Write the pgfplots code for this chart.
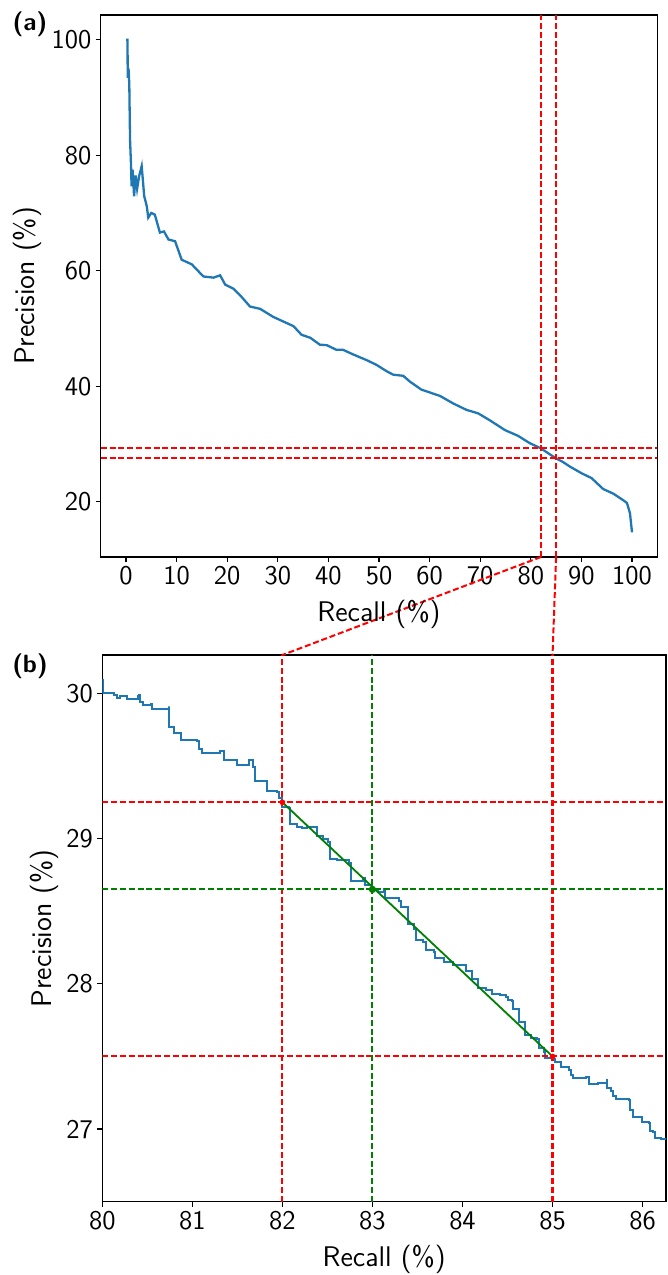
\documentclass[border=0pt]{standalone}
\usepackage{fontspec}
\usepackage{pgfplots}
\pgfplotsset{compat=1.18}
\definecolor{mplblue}{HTML}{1F77B4}
\definecolor{mplgreen}{HTML}{008000}
\definecolor{mplred}{HTML}{FF0000}
\tikzset{
  rdash/.style={mplred, line width=1pt, dash pattern=on 3pt off 1.4pt},
  gdash/.style={mplgreen, line width=1pt, dash pattern=on 3pt off 1.4pt},
}
\pgfplotsset{
  prstyle/.style={
    scale only axis,
    axis line style={black, line width=0.6pt},
    tick align=outside,
    tick pos=left,
    major tick length=2.5pt,
    tick style={black, line width=0.6pt},
    /pgf/number format/assume math mode=true,
    tick label style={font=\sffamily\fontsize{13.5}{14}\selectfont, inner sep=2pt},
    clip=true,
  },
}
\begin{document}
\begin{tikzpicture}[x=1pt,y=1pt]
\path[use as bounding box] (0pt,0pt) rectangle (334pt,-637.5pt);
% ---------------- (a) ----------------
\begin{axis}[prstyle,
  at={(50.35pt,-7.5pt)}, anchor=north west,
  width=278.3pt, height=271pt,
  xmin=-5, xmax=105, ymin=10.43, ymax=104.27,
  xtick={0,10,...,100}, ytick={20,40,60,80,100},
]
\addplot[mplblue, line width=1.15pt] coordinates {
(0,100)(0.3,100)(0.34,93.4)(0.5,95)(0.65,92.3)(0.8,82.7)(1.0,78.1)(1.1,74.6)(1.3,77.5)
(1.6,72.9)(1.9,76.5)(2.2,74.2)(2.6,76.4)(3.1,78.1)(3.6,72.9)(4.1,71.2)(4.4,69.2)(5.0,70.0)
(5.7,69.7)(6.7,66.6)(7.5,66.8)(8.4,65.4)(9.7,65.1)(11.0,61.9)(13.0,61.1)(15.3,59.0)
(17.3,58.8)(18.6,59.2)(19.6,57.6)(21.2,56.9)(22.8,55.5)(24.5,53.8)(26.5,53.4)(29.1,52.0)
(31.1,51.2)(33.1,50.4)(34.7,48.9)(36.4,48.4)(38.3,47.2)(39.7,47.1)(41.6,46.3)(42.9,46.3)
(44.9,45.5)(47.6,44.5)(49.5,43.7)(51.5,42.6)(52.8,42.0)(54.8,41.8)(56.1,40.8)(58.4,39.4)
(60.1,38.9)(62.1,38.3)(64.7,37.0)(67.3,35.9)(69.6,35.3)(71.9,34.1)(74.9,32.4)(77.5,31.4)
(79.5,30.3)(80,30.05)(82,29.25)(83,28.65)(85,27.5)(86.26,26.93)(87.7,26.1)(90.1,24.9)
(92.0,24.1)(94.3,22.2)(96.3,21.4)(98.2,20.3)(99.0,19.8)(99.6,18.0)(100,14.7)
};
\addplot[rdash] coordinates {(82,10.43)(82,104.27)};
\addplot[rdash] coordinates {(85,10.43)(85,104.27)};
\addplot[rdash] coordinates {(-5,29.25)(105,29.25)};
\addplot[rdash] coordinates {(-5,27.5)(105,27.5)};
\coordinate (t82) at (axis cs:82,10.43);
\coordinate (t85) at (axis cs:85,10.43);
\end{axis}
% ---------------- (b) ----------------
\begin{axis}[prstyle,
  at={(51.15pt,-327.5pt)}, anchor=north west,
  width=281.85pt, height=273.35pt,
  xmin=80, xmax=86.26, ymin=26.5, ymax=30.264,
  xtick={80,81,...,86}, ytick={27,28,29,30},
]
\addplot[mplblue, line width=1pt, const plot] coordinates {
(80,30.09)(80.01,30.0)(80.13,29.99)(80.16,29.97)(80.2,29.98)(80.27,29.96)(80.4,29.98)
(80.41,29.99)(80.42,29.94)(80.45,29.92)(80.54,29.93)(80.55,29.89)(80.61,29.89)(80.74,29.91)
(80.74,29.77)(80.79,29.77)(80.8,29.73)(80.86,29.73)(80.87,29.68)(81.05,29.67)(81.07,29.62)
(81.11,29.59)(81.31,29.60)(81.35,29.54)(81.5,29.51)(81.63,29.54)(81.67,29.49)(81.7,29.40)
(81.83,29.33)(81.94,29.32)(81.96,29.28)(82.0,29.25)(82.0,29.22)(82.07,29.21)(82.08,29.10)
(82.14,29.10)(82.16,29.08)(82.22,29.07)(82.27,29.08)(82.37,29.08)(82.38,29.02)(82.45,29.0)
(82.51,28.98)(82.53,28.86)(82.61,28.85)(82.74,28.83)(82.76,28.71)(82.9,28.73)(82.92,28.68)
(83.0,28.65)(83.06,28.63)(83.13,28.65)(83.14,28.59)(83.29,28.57)(83.32,28.53)(83.39,28.41)
(83.46,28.38)(83.48,28.30)(83.56,28.29)(83.59,28.23)(83.68,28.22)(83.69,28.18)(83.79,28.15)
(83.9,28.13)(84.02,28.13)(84.04,28.09)(84.09,28.09)(84.11,28.03)(84.16,28.03)(84.17,27.97)
(84.26,27.96)(84.32,27.96)(84.33,27.93)(84.42,27.92)(84.48,27.91)(84.5,27.89)(84.55,27.88)
(84.56,27.83)(84.61,27.83)(84.63,27.74)(84.68,27.74)(84.69,27.65)(84.76,27.63)(84.83,27.62)
(84.85,27.56)(84.9,27.53)(84.92,27.49)(85.0,27.48)(85.03,27.46)(85.09,27.43)(85.14,27.43)
(85.18,27.41)(85.2,27.37)(85.23,27.35)(85.33,27.35)(85.37,27.36)(85.4,27.36)(85.41,27.31)
(85.5,27.32)(85.6,27.34)(85.61,27.28)(85.65,27.26)(85.67,27.23)(85.71,27.21)(85.85,27.20)
(85.86,27.13)(85.89,27.08)(85.98,27.08)(85.99,27.05)(86.07,27.04)(86.08,26.99)(86.12,26.98)
(86.14,26.94)(86.2,26.93)(86.3,26.92)
};
\addplot[rdash] coordinates {(82,26.5)(82,30.264)};
\addplot[rdash, line width=1.5pt] coordinates {(85,26.5)(85,30.264)};
\addplot[rdash] coordinates {(80,29.25)(86.26,29.25)};
\addplot[rdash] coordinates {(80,27.5)(86.26,27.5)};
\addplot[gdash] coordinates {(83,26.5)(83,30.264)};
\addplot[gdash] coordinates {(80,28.65)(86.26,28.65)};
\addplot[mplgreen, line width=0.9pt] coordinates {(82,29.25)(85,27.5)};
\addplot[only marks, mark=*, mark size=1.6pt, mplgreen] coordinates {(83,28.65)};
\addplot[only marks, mark=*, mark size=1.2pt, mplred] coordinates {(82,29.25)(85,27.5)};
\coordinate (b82) at (axis cs:82,30.264);
\coordinate (b85) at (axis cs:85,30.264);
\end{axis}
% connectors
\draw[rdash] (t82) -- (b82);
\draw[rdash] (t85) -- (b85);
% labels
\begin{scope}[every node/.style={font=\sffamily\fontsize{14.2}{15}\selectfont, inner sep=0pt}]
\node[anchor=base] at (189.5pt,-310.8pt) {Recall (\%)};
\node[anchor=base] at (192.1pt,-633.3pt) {Recall (\%)};
\node[anchor=base, rotate=90] at (17.2pt,-143pt) {Precision (\%)};
\node[anchor=base, rotate=90] at (25.5pt,-464.2pt) {Precision (\%)};
\end{scope}
\node[font=\sffamily\bfseries\fontsize{12.5}{14}\selectfont, inner sep=0pt] at (15pt,-12pt) {(a)};
\node[font=\sffamily\bfseries\fontsize{12.5}{14}\selectfont, inner sep=0pt] at (15pt,-333pt) {(b)};
\end{tikzpicture}
\end{document}
